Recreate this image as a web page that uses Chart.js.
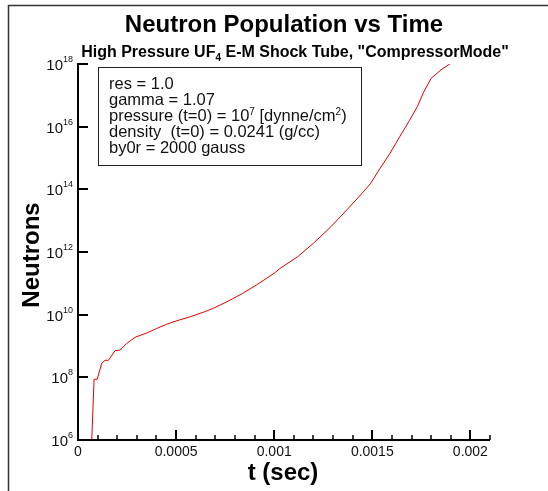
<!DOCTYPE html>
<html>
  <head>
    <script src="https://cdn.jsdelivr.net/npm/chart.js@4.4.0/dist/chart.umd.min.js"></script>
    <style>
      body { margin: 0; background: #fff; }
      #wrap { width: 548px; height: 491px; }
      canvas { display: block; }
    </style>
  </head>
  <body>
    <div id="wrap"><canvas id="canvas" width="548" height="491"></canvas></div>
    <script>
      // time (s) and neutron count along the run
      const times = [
        0.00007, 0.000082, 0.000098, 0.000121, 0.000138, 0.000155, 0.000189, 0.000214,
        0.000248, 0.000291, 0.00035, 0.0004, 0.00045, 0.0005, 0.00057, 0.00064,
        0.00069, 0.00076, 0.00084, 0.00091, 0.001, 0.00103, 0.00107, 0.00112,
        0.0012, 0.00129, 0.00137, 0.00144, 0.00149, 0.00154, 0.00159, 0.00164,
        0.00169, 0.00173, 0.00176, 0.0018, 0.00185, 0.0019
      ];
      const neutrons = [
        1e6, 8.7e7, 8.7e7, 2.8e8, 3.5e8, 3.5e8, 7.1e8, 7.4e8,
        1.2e9, 1.9e9, 2.6e9, 3.6e9, 4.9e9, 6.3e9, 8.5e9, 1.2e10,
        1.6e10, 2.6e10, 4.8e10, 8.9e10, 2.1e11, 3.0e11, 4.4e11, 7.1e11,
        1.9e12, 6.5e12, 2.2e13, 6.6e13, 1.5e14, 4.7e14, 1.4e15, 4.8e15,
        1.6e16, 4.4e16, 1.2e17, 3.5e17, 6.5e17, 1.05e18
      ];

      const xMajorTicks = [0, 0.0005, 0.001, 0.0015, 0.002];
      const xMajorLabels = ['0', '0.0005', '0.001', '0.0015', '0.002'];
      const xMinorStep = 0.0001;
      const yTickExponents = [6, 8, 10, 12, 14, 16, 18];

      const titleText = 'Neutron Population vs Time';
      // runs: [text, shift] with shift 1 = superscript, -1 = subscript
      const subtitleRuns = [['High Pressure UF', 0], ['4', -1], [' E-M Shock Tube, "CompressorMode"', 0]];
      const infoLines = [
        [['res = 1.0', 0]],
        [['gamma = 1.07', 0]],
        [['pressure (t=0) = 10', 0], ['7', 1], [' [dynne/cm', 0], ['2', 1], [')', 0]],
        [['density  (t=0) = 0.0241 (g/cc)', 0]],
        [['by0r = 2000 gauss', 0]]
      ];

      const FONT = '"Liberation Sans", Arial, Helvetica, sans-serif';

      function font(size, bold) {
        return (bold ? 'bold ' : '') + size + 'px ' + FONT;
      }

      function runsWidth(ctx, runs, size, small, bold) {
        let w = 0;
        runs.forEach(([t, s]) => {
          ctx.font = font(s ? small : size, bold);
          w += ctx.measureText(t).width;
        });
        return w;
      }

      function drawRuns(ctx, runs, x, y, size, small, bold, rise) {
        ctx.textAlign = 'left';
        ctx.textBaseline = 'alphabetic';
        runs.forEach(([t, s]) => {
          ctx.font = font(s ? small : size, bold);
          ctx.fillText(t, x, y - s * rise);
          x += ctx.measureText(t).width;
        });
      }

      const decorations = {
        id: 'decorations',
        beforeDraw(chart) {
          const ctx = chart.ctx;
          ctx.save();
          ctx.fillStyle = '#fff';
          ctx.fillRect(0, 0, chart.width, chart.height);
          // page frame
          ctx.strokeStyle = '#333';
          ctx.lineWidth = 1.5;
          ctx.beginPath();
          ctx.moveTo(8.5, chart.height);
          ctx.lineTo(8.5, 5.5);
          ctx.lineTo(chart.width, 5.5);
          ctx.stroke();
          ctx.restore();
        },
        afterDraw(chart) {
          const ctx = chart.ctx;
          const area = chart.chartArea;
          const xs = chart.scales.x;
          const ys = chart.scales.y;
          ctx.save();
          ctx.strokeStyle = '#000';
          ctx.fillStyle = '#111';

          // axes
          ctx.lineWidth = 2;
          ctx.beginPath();
          ctx.moveTo(area.left, area.top);
          ctx.lineTo(area.left, area.bottom);
          ctx.lineTo(area.right, area.bottom);
          ctx.stroke();

          // x ticks, pointing inward
          const nMinor = Math.round((xs.max - xs.min) / xMinorStep);
          for (let i = 0; i <= nMinor; i++) {
            const v = xs.min + i * xMinorStep;
            const major = xMajorTicks.some((m) => Math.abs(m - v) < 1e-9);
            const px = Math.round(xs.getPixelForValue(v));
            ctx.lineWidth = major ? 2 : 1.5;
            ctx.beginPath();
            ctx.moveTo(px, area.bottom);
            ctx.lineTo(px, area.bottom - (major ? 10 : 5));
            ctx.stroke();
          }
          ctx.font = font(14, false);
          ctx.textAlign = 'center';
          ctx.textBaseline = 'alphabetic';
          xMajorTicks.forEach((v, i) => {
            ctx.fillText(xMajorLabels[i], xs.getPixelForValue(v), 456);
          });

          // y ticks and power-of-ten labels
          yTickExponents.forEach((e) => {
            const py = Math.round(ys.getPixelForValue(Math.pow(10, e)));
            ctx.lineWidth = 2;
            ctx.beginPath();
            ctx.moveTo(area.left - 1, py);
            ctx.lineTo(area.left + 10, py);
            ctx.stroke();
            const sup = String(e);
            ctx.font = font(9, false);
            const sw = ctx.measureText(sup).width;
            ctx.textAlign = 'right';
            ctx.fillText(sup, 73, py - 2);
            ctx.font = font(15, false);
            ctx.fillText('10', 73 - sw, py + 6);
          });

          // titles
          ctx.textAlign = 'center';
          ctx.font = font(24, true);
          ctx.fillStyle = '#000';
          ctx.fillText(titleText, 284, 32);
          const sw = runsWidth(ctx, subtitleRuns, 16, 10, true);
          drawRuns(ctx, subtitleRuns, 295 - sw / 2, 57, 16, 10, true, 4);

          ctx.textAlign = 'center';
          ctx.font = font(24, true);
          ctx.fillText('t (sec)', 283, 480);
          ctx.save();
          ctx.translate(39, 255);
          ctx.rotate(-Math.PI / 2);
          ctx.fillText('Neutrons', 0, 0);
          ctx.restore();

          // run parameters box
          ctx.fillStyle = '#fff';
          ctx.fillRect(98, 67, 263, 98);
          ctx.strokeStyle = '#222';
          ctx.lineWidth = 1;
          ctx.strokeRect(98.5, 67.5, 263, 98);
          ctx.fillStyle = '#111';
          infoLines.forEach((runs, i) => {
            drawRuns(ctx, runs, 109, 89 + i * 16, 16.5, 10, false, 6);
          });
          ctx.restore();
        }
      };

      new Chart(document.getElementById('canvas').getContext('2d'), {
        type: 'line',
        data: {
          datasets: [
            {
              label: 'Neutrons',
              data: times.map((t, i) => ({ x: t, y: neutrons[i] })),
              borderColor: '#e60000',
              borderWidth: 1,
              pointRadius: 0,
              tension: 0,
            },
          ],
        },
        options: {
          responsive: false,
          animation: false,
          events: [],
          layout: { padding: { top: 64, right: 58, bottom: 0, left: 0 } },
          plugins: {
            legend: { display: false },
            title: { display: false },
            tooltip: { enabled: false },
          },
          scales: {
            x: {
              type: 'linear',
              min: 0,
              max: 0.0021,
              grid: { display: false },
              border: { display: false },
              ticks: { display: false },
              afterFit(scale) { scale.height = 51; },
            },
            y: {
              type: 'logarithmic',
              min: 1e6,
              max: 1e18,
              grid: { display: false },
              border: { display: false },
              ticks: { display: false },
              afterFit(scale) { scale.width = 78; },
            },
          },
        },
        plugins: [decorations],
      });
    </script>
  </body>
</html>
